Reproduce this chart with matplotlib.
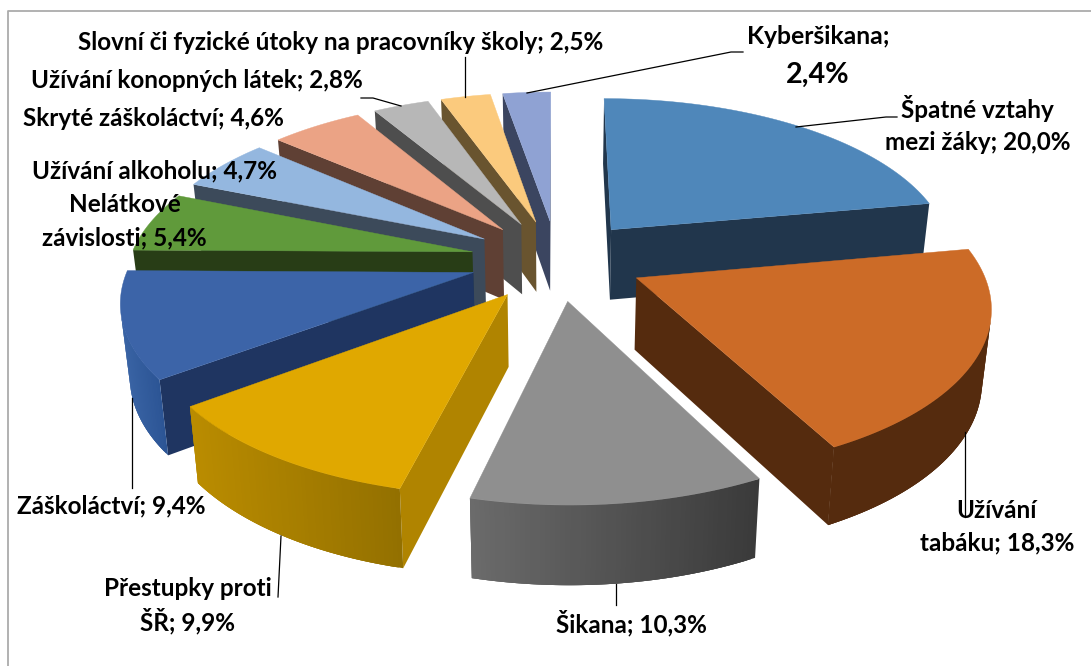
import numpy as np
import matplotlib
matplotlib.use('Agg')
import matplotlib.pyplot as plt
from matplotlib.patches import Polygon

categories = ['Špatné vztahy mezi žáky', 'Užívání tabáku', 'Šikana', 'Přestupky proti ŠŘ', 'Záškoláctví',
              'Nelátkové závislosti', 'Užívání alkoholu', 'Skryté záškoláctví', 'Užívání konopných látek',
              'Slovní či fyzické útoky na pracovníky školy', 'Kyberšikana']
values = [20.0, 18.3, 10.3, 9.9, 9.4, 5.4, 4.7, 4.6, 2.8, 2.5, 2.4]

# top face, side wall, outer wall left and right colour
top_colors = ['#4F87BA', '#CC6B27', '#8F8F8F', '#E0A800', '#3C64A8', '#609A3B', '#94B7DF', '#EBA385', '#B7B7B7', '#FBCA7D', '#8FA2D3']
side_colors = ['#21364C', '#552B0E', '#3C3C3C', '#B08400', '#1F3561', '#283D16', '#3C4A5A', '#5F4034', '#4E4E4E', '#69542F', '#3B4560']
wall_left = ['#21364C', '#552B0E', '#6B6B6B', '#BA8C00', '#3A64A5', '#283D16', '#3C4A5A', '#5F4034', '#4E4E4E', '#69542F', '#3B4560']
wall_right = ['#21364C', '#552B0E', '#3A3A3A', '#937000', '#2C5595', '#283D16', '#3C4A5A', '#5F4034', '#4E4E4E', '#69542F', '#3B4560']

# camera fit: pie plane -> picture pixels
H = [349.583, 47.423, 557.011, -12.638, -119.425, 259.783, 0.01543, 0.14943]
explode = 0.2534
start = 0.1042
draw_order = [10, 9, 8, 7, 6, 5, 4, 0, 3, 2, 1]

# text, centre x, centre y, size
label_rows = [
    ('Slovní či fyzické útoky na pracovníky školy; 2,5%', 341, 42, 17.5),
    ('Kyberšikana;', 818, 37, 17.8),
    ('2,4%', 818, 75, 20.6),
    ('Užívání konopných látek; 2,8%', 197, 81, 17.5),
    ('Skryté záškoláctví; 4,6%', 153, 119, 17.5),
    ('Užívání alkoholu; 4,7%', 154, 171, 17.5),
    ('Nelátkové', 125, 205, 17.5),
    ('závislosti; 5,4%', 124, 238, 17.5),
    ('Špatné vztahy', 977, 109, 17.5),
    ('mezi žáky; 20,0%', 978, 142, 17.5),
    ('Užívání', 997, 510, 17.5),
    ('tabáku; 18,3%', 997, 543, 17.5),
    ('Šikana; 10,3%', 631, 623, 17.5),
    ('Přestupky proti', 188, 589, 17.5),
    ('ŠŘ; 9,9%', 188, 621, 17.5),
    ('Záškoláctví; 9,4%', 111, 506, 17.5),
]

leaders = [
    [(465, 57), (465, 97)],
    [(527, 93), (731, 52), (743, 52)],
    [(361, 98), (373, 98), (401, 106)],
    [(796, 127), (886, 117), (897, 117)],
    [(132, 398), (132, 488)],
    [(281, 536), (278, 597)],
    [(616, 584), (616, 605)],
    [(965, 432), (965, 517)],
]


def top_xy(u, v):
    w = 1 + H[6] * u + H[7] * v
    return (H[0] * u + H[1] * v + H[2]) / w, (H[3] * u + H[4] * v + H[5]) / w


def low_xy(x, y):
    # bottom face of the pie, walls lean a bit towards the middle
    return x + 0.0217 * (557 - x), y + 70 + 0.037 * (y - 230)


def facing(a, b, c, d):
    pts = np.array([a, b, c, d])
    xs, ys = pts[:, 0], pts[:, 1]
    return 0.5 * np.sum(xs * np.roll(ys, -1) - np.roll(xs, -1) * ys) < 0


def quad(ax, a, b, color, z):
    a2 = low_xy(*a)
    b2 = low_xy(*b)
    if facing(a, b, b2, a2):
        ax.add_patch(Polygon([a, b, b2, a2], closed=True, fc=color, ec='none', lw=0, zorder=z))


fig = plt.figure(figsize=(10.91, 6.66), dpi=100)
ax = fig.add_axes([0, 0, 1, 1])
ax.set_xlim(0, 1091)
ax.set_ylim(666, 0)
ax.axis('off')

edges = np.concatenate([[0], np.cumsum(values)]) / np.sum(values) * 2 * np.pi + start

for n, i in enumerate(draw_order):
    z = 2 + n
    mid = (edges[i] + edges[i + 1]) / 2
    cu, cv = explode * np.sin(mid), explode * np.cos(mid)
    th = np.linspace(edges[i], edges[i + 1], 60)
    apex = top_xy(cu, cv)
    arc = [top_xy(cu + np.sin(t), cv + np.cos(t)) for t in th]
    # both cut faces
    quad(ax, apex, arc[0], side_colors[i], z)
    quad(ax, arc[-1], apex, side_colors[i], z)
    # outer wall, colour running from left to right, pieces overlap so no seams show
    c1 = np.array(matplotlib.colors.to_rgb(wall_left[i]))
    c2 = np.array(matplotlib.colors.to_rgb(wall_right[i]))
    xs = [p[0] for p in arc]
    for k in range(len(arc) - 1):
        k2 = min(k + 3, len(arc) - 1)
        f = ((arc[k][0] + arc[k + 1][0]) / 2 - min(xs)) / (max(xs) - min(xs))
        quad(ax, arc[k], arc[k2], c1 + (c2 - c1) * f, z)
    ax.add_patch(Polygon([apex] + arc, closed=True, fc=top_colors[i], ec=top_colors[i], lw=0.3, zorder=z + 0.5))

# chart frame
ax.plot([8, 8, 1091], [666, 11, 11], color='#ABABAB', lw=1.3, zorder=1)

for line in leaders:
    ax.plot([p[0] for p in line], [p[1] for p in line], color='black', lw=0.9, zorder=30)

for text, x, y, size in label_rows:
    ax.text(x, y, text, ha='center', va='center', fontsize=size, family='Lato', weight='bold', color='black', zorder=40)

fig.savefig('out.png', dpi=100)
